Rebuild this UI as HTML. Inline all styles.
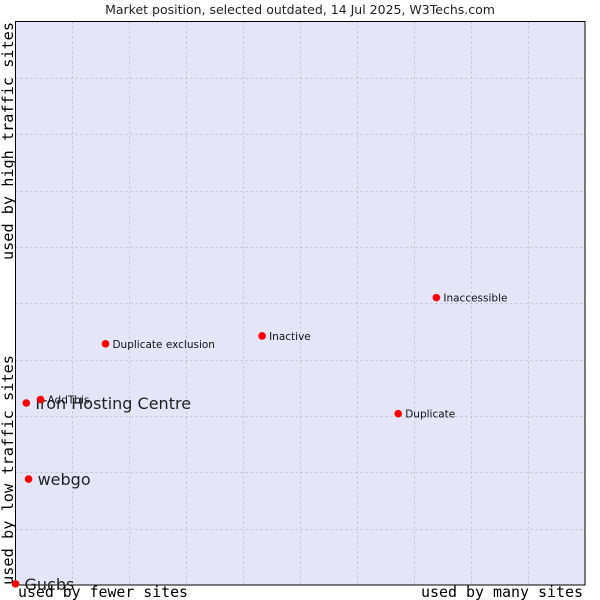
<!DOCTYPE html>
<html><head><meta charset="utf-8"><style>body{margin:0;background:#fff}svg{display:block}</style></head><body>
<svg id="chart" width="600" height="600" xmlns="http://www.w3.org/2000/svg">
<text x="300" y="14" text-anchor="middle" font-family="DejaVu Sans, sans-serif" font-size="12.5" fill="#222">Market position, selected outdated, 14 Jul 2025, W3Techs.com</text>
<rect x="15.5" y="21.5" width="569.5" height="563.5" fill="#e4e6f8"/>
<g id="grid"></g>
<path d="M15.5,21.5H585V585H15.5Z" fill="none" stroke="#000" stroke-width="1"/>
<g id="points"></g>
<text x="18" y="597" textLength="170" lengthAdjust="spacingAndGlyphs" font-family="DejaVu Sans Mono, monospace" font-size="15" fill="#000">used by fewer sites</text>
<text x="421" y="597" textLength="162" lengthAdjust="spacingAndGlyphs" font-family="DejaVu Sans Mono, monospace" font-size="15" fill="#000">used by many sites</text>
<text transform="translate(13,260) rotate(-90)" textLength="238" lengthAdjust="spacingAndGlyphs" font-family="DejaVu Sans Mono, monospace" font-size="15" fill="#000">used by high traffic sites</text>
<text transform="translate(13,585) rotate(-90)" textLength="230" lengthAdjust="spacingAndGlyphs" font-family="DejaVu Sans Mono, monospace" font-size="15" fill="#000">used by low traffic sites</text>
</svg>
<script>
const names = ["Gucbs","webgo","Iron Hosting Centre","AddThis","Duplicate exclusion","Inactive","Inaccessible","Duplicate"];
const xValues = [0, 2.3, 1.9, 4.4, 15.8, 43.3, 73.9, 67.2];
const yValues = [0.2, 18.8, 32.3, 32.9, 42.8, 44.2, 51.0, 30.4];
const bigLabel = [true, true, true, false, false, false, false, false];
const NS = "http://www.w3.org/2000/svg";
const L=15.5,R=585,T=21.5,B=585;
function sx(v){return L+(R-L)*v/100;}
function sy(v){return B-(B-T)*v/100;}
const grid=document.getElementById('grid');
for(let i=1;i<10;i++){
  const v=document.createElementNS(NS,'line');
  
  
  const x=Math.round(sx(i*10))+0.5;
  v.setAttribute('x1',x);v.setAttribute('x2',x);v.setAttribute('y1',T);v.setAttribute('y2',B);
  v.setAttribute('stroke','#c0c0c8');v.setAttribute('stroke-dasharray','2,3');grid.appendChild(v);
  const h=document.createElementNS(NS,'line');
  
  
  const y=Math.round(sy(i*10))+0.5;
  h.setAttribute('x1',L);h.setAttribute('x2',R);h.setAttribute('y1',y);h.setAttribute('y2',y);
  h.setAttribute('stroke','#c0c0c8');h.setAttribute('stroke-dasharray','2,3');grid.appendChild(h);
}
const pts=document.getElementById('points');
names.forEach((n,i)=>{
  const x=sx(xValues[i]),y=sy(yValues[i]);
  const c=document.createElementNS(NS,'circle');
  
  
  c.setAttribute('cx',x);c.setAttribute('cy',y);c.setAttribute('r',3.8);c.setAttribute('fill','#f00');
  pts.appendChild(c);
  const t=document.createElementNS(NS,'text');
  
  
  t.setAttribute('font-family','DejaVu Sans, sans-serif');
  if(bigLabel[i]){t.setAttribute('font-size','16');t.setAttribute('x',x+9);t.setAttribute('y',y+6);t.setAttribute('fill','#222');}
  else{t.setAttribute('font-size','10.5');t.setAttribute('x',x+7);t.setAttribute('y',y+4);t.setAttribute('fill','#111');}
  t.textContent=n;pts.appendChild(t);
});
</script>
</body></html>
